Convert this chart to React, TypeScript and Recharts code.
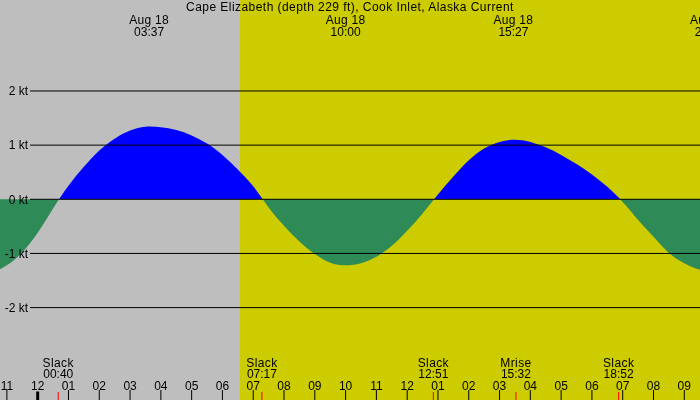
import React from 'react';
import { AreaChart, Area, XAxis, YAxis, ReferenceArea, ReferenceLine } from 'recharts';

const TITLE = 'Cape Elizabeth (depth 229 ft), Cook Inlet, Alaska Current';

// hours after midnight Aug 18 and the current speed in knots (+ flood, - ebb)
const hours = [
  -1.5, -1, -0.5, 0, 0.5, 1, 1.5, 2, 2.5, 3, 3.5, 4, 4.5, 5, 5.5, 6, 6.5, 7, 7.5, 8, 8.5, 9,
  9.5, 10, 10.5, 11, 11.5, 12, 12.5, 13, 13.5, 14, 14.5, 15, 15.5, 16, 16.5, 17, 17.5, 18, 18.5,
  19, 19.5, 20, 20.5, 21, 21.5, 22,
];
const speeds = [
  -1.36, -1.22, -0.98, -0.62, -0.17, 0.25, 0.6, 0.9, 1.12, 1.27, 1.34, 1.33, 1.28, 1.18, 1.03,
  0.82, 0.55, 0.24, -0.15, -0.49, -0.78, -1.01, -1.17, -1.22, -1.18, -1.06, -0.86, -0.58, -0.26,
  0.09, 0.42, 0.72, 0.94, 1.06, 1.1, 1.06, 0.96, 0.82, 0.65, 0.46, 0.23, -0.05, -0.38, -0.69,
  -0.99, -1.18, -1.3, -1.36,
];

const ktLevels = [-2, -1, 0, 1, 2];
const hourTicks = [-1, 0, 1, 2, 3, 4, 5, 6, 7, 8, 9, 10, 11, 12, 13, 14, 15, 16, 17, 18, 19, 20, 21];

// max flood / max ebb times shown along the top
const peakTimes = [3.617, 10, 15.45, 21.83];
const peakDates = ['Aug 18', 'Aug 18', 'Aug 18', 'Aug 18'];
const peakLabels = ['03:37', '10:00', '15:27', '21:50'];

// slack water and moonrise along the bottom
const eventTimes = [0.667, 7.283, 12.85, 15.533, 18.867];
const eventNames = ['Slack', 'Slack', 'Slack', 'Mrise', 'Slack'];
const eventLabels = ['00:40', '07:17', '12:51', '15:32', '18:52'];

const sunrise = 6.57;

const W = 700;
const H = 400;
const X_MIN = -1.224;
const X_MAX = 21.51;
const Y_MIN = -3.706;
const Y_MAX = 3.68;
const LINE_START = -0.25;

const FONT = '"Liberation Sans", Arial, sans-serif';

const data = hours.map((h, i) => ({ h, v: speeds[i] }));
const zeroOffset = Y_MAX / (Y_MAX - Y_MIN);

const bottomTicks = [...hourTicks, ...eventTimes];

// y is the baseline of the hour labels; tick marks hang below it to the chart edge
const BottomTick = (props: any) => {
  const { x, y, payload } = props;
  const v = payload.value;
  const ev = eventTimes.indexOf(v);
  if (ev >= 0) {
    return (
      <g>
        <line x1={x} x2={x} y1={y + 2} y2={y + 10} stroke="#ff0000" />
        <text x={x} y={y - 23.5} textAnchor="middle" fontSize={12} fontFamily={FONT} fill="#000" letterSpacing={0.4}>
          {eventNames[ev]}
        </text>
        <text x={x} y={y - 12.5} textAnchor="middle" fontSize={12} fontFamily={FONT} fill="#000">
          {eventLabels[ev]}
        </text>
      </g>
    );
  }
  const hh = ((v % 12) + 12) % 12 || 12;
  return (
    <g>
      {v === 0 ? (
        <rect x={x - 1.5} y={y + 1.5} width={3} height={8.5} fill="#000" />
      ) : (
        <line x1={x} x2={x} y1={y} y2={y + 10} stroke="#000" />
      )}
      <text x={x} y={y} textAnchor="middle" fontSize={12} fontFamily={FONT} fill="#000">
        {String(hh).padStart(2, '0')}
      </text>
    </g>
  );
};

const PeakTick = (props: any) => {
  const { x, y, index } = props;
  return (
    <g>
      <text x={x} y={y} textAnchor="middle" fontSize={12} fontFamily={FONT} fill="#000" letterSpacing={0.3}>
        {peakDates[index]}
      </text>
      <text x={x} y={y + 12} textAnchor="middle" fontSize={12} fontFamily={FONT} fill="#000">
        {peakLabels[index]}
      </text>
    </g>
  );
};

export default function App() {
  return (
    <div style={{ position: 'fixed', top: 0, left: 0, width: W, height: H, fontFamily: FONT }}>
      <AreaChart width={W} height={H} data={data} margin={{ top: 0, right: 0, bottom: 0, left: 0 }}>
        <defs>
          <linearGradient id="flow" gradientUnits="userSpaceOnUse" x1="0" y1="0" x2="0" y2={H}>
            <stop offset={zeroOffset} stopColor="#0000ff" />
            <stop offset={zeroOffset} stopColor="#2e8b57" />
          </linearGradient>
        </defs>
        <XAxis
          dataKey="h"
          type="number"
          domain={[X_MIN, X_MAX]}
          allowDataOverflow
          ticks={bottomTicks}
          orientation="bottom"
          mirror
          axisLine={false}
          tickLine={false}
          tickSize={10}
          tickMargin={0}
          tick={BottomTick}
          interval={0}
        />
        <XAxis
          xAxisId="top"
          dataKey="h"
          type="number"
          domain={[X_MIN, X_MAX]}
          allowDataOverflow
          ticks={peakTimes}
          orientation="top"
          mirror
          axisLine={false}
          tickLine={false}
          tickSize={0}
          tickMargin={24}
          tick={PeakTick}
          interval={0}
        />
        <YAxis type="number" domain={[Y_MIN, Y_MAX]} allowDataOverflow hide />
        <ReferenceArea x1={X_MIN} x2={sunrise} fill="#bebebe" fillOpacity={1} stroke="none" />
        <ReferenceArea x1={sunrise} x2={X_MAX} fill="#cccc00" fillOpacity={1} stroke="none" />
        <Area
          type="natural"
          dataKey="v"
          baseValue={0}
          stroke="none"
          fill="url(#flow)"
          fillOpacity={1}
          isAnimationActive={false}
        />
        {ktLevels.map((k) => (
          <ReferenceLine
            key={k}
            segment={[
              { x: LINE_START, y: k },
              { x: X_MAX, y: k },
            ]}
            stroke="#000"
            strokeWidth={1}
            label={{ value: `${k} kt`, position: 'left', offset: 2, fill: '#000', fontSize: 12 }}
          />
        ))}
      </AreaChart>
      <div
        style={{
          position: 'absolute',
          top: 0,
          left: 0,
          width: W,
          textAlign: 'center',
          fontSize: 12,
          lineHeight: '14px',
          letterSpacing: '0.45px',
          color: '#000',
        }}
      >
        {TITLE}
      </div>
    </div>
  );
}
